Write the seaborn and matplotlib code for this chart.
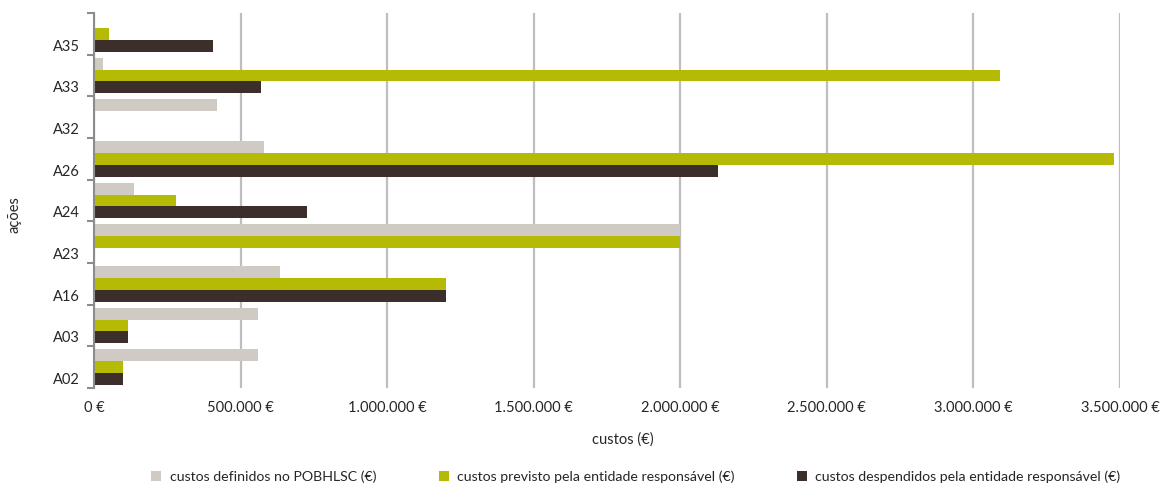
import numpy as np
import pandas as pd
import matplotlib
matplotlib.use("Agg")
import matplotlib.pyplot as plt
from matplotlib.ticker import FuncFormatter, FixedLocator
import seaborn as sns

# Actions, listed top to bottom
acoes = ["A35", "A33", "A32", "A26", "A24", "A23", "A16", "A03", "A02"]

# Costs in euros for each action
custos_definidos = [0, 30000, 420000, 580000, 136000, 2000000, 635000, 560000, 560000]
custos_previstos = [50000, 3090000, 0, 3480000, 280000, 2000000, 1200000, 116000, 99000]
custos_despendidos = [405000, 570000, 0, 2130000, 727000, 0, 1200000, 116000, 99000]

series_names = [
    "custos definidos no POBHLSC (€)",
    "custos previsto pela entidade responsável (€)",
    "custos despendidos pela entidade responsável (€)",
]
palette = ["#CFCAC4", "#B5BA05", "#3C2F2B"]

x_ticks = [0, 500000, 1000000, 1500000, 2000000, 2500000, 3000000, 3500000]

rows = []
for name, vals in zip(series_names, [custos_definidos, custos_previstos, custos_despendidos]):
    for a, v in zip(acoes, vals):
        rows.append({"ação": a, "serie": name, "valor": v})
df = pd.DataFrame(rows)

sns.set_theme(style="white")
plt.rcParams["font.family"] = ["Lato", "DejaVu Sans"]
text_color = "#262626"

fig = plt.figure(figsize=(11.62, 4.86), dpi=100)
W, H = 1162, 486
left, right, top, bottom = 94, 1120, 13, 388
ax = fig.add_axes([left / W, 1 - bottom / H, (right - left) / W, (bottom - top) / H])

sns.barplot(
    data=df, y="ação", x="valor", hue="serie",
    order=acoes, hue_order=series_names, palette=palette,
    orient="h", width=0.85, gap=0, linewidth=0, saturation=1,
    errorbar=None, ax=ax,
)

ax.set_xlim(0, 3500000)
ax.set_ylim(len(acoes) - 0.5, -0.5)

# Vertical gridlines at the value ticks
ax.xaxis.set_major_locator(FixedLocator(x_ticks))
ax.xaxis.set_major_formatter(FuncFormatter(lambda v, p: f"{v:,.0f} €".replace(",", ".")))
ax.grid(axis="x", color="#BEBEBE", linewidth=1.6)
ax.set_axisbelow(True)
ax.tick_params(axis="x", length=4, width=1.2, color="#BEBEBE", labelsize=10.5,
               labelcolor=text_color, pad=5)

# Category labels sit with the last bar of each group; tick marks at group boundaries
ax.yaxis.set_major_locator(FixedLocator(np.arange(len(acoes)) + 0.27))
ax.set_yticklabels(acoes)
ax.yaxis.set_minor_locator(FixedLocator(np.arange(len(acoes) + 1) - 0.5))
ax.tick_params(axis="y", which="major", length=0, labelsize=10.5, labelcolor=text_color, pad=10)
ax.tick_params(axis="y", which="minor", length=5, width=1.5, color="#8C8C8C", left=True)

for s in ["top", "right", "bottom"]:
    ax.spines[s].set_visible(False)
ax.spines["left"].set_color("#8C8C8C")
ax.spines["left"].set_linewidth(1.5)

ax.set_xlabel("custos (€)", fontsize=10.5, color=text_color)
ax.xaxis.set_label_coords((623 - left) / (right - left), -(432 - bottom) / (bottom - top))
ax.set_ylabel("ações", fontsize=10.5, color=text_color)
ax.yaxis.set_label_coords(-(94 - 22) / (right - left), (bottom - 215) / (bottom - top))

handles, labels = ax.get_legend_handles_labels()
ax.get_legend().remove()
fig.legend(
    handles, labels, loc="center", bbox_to_anchor=(636 / W, 1 - 477 / H),
    ncol=3, frameon=False, fontsize=10.2, handlelength=0.7, handleheight=0.7,
    handletextpad=0.6, columnspacing=4.4, labelcolor=text_color,
)

fig.savefig("out.png", dpi=100)
